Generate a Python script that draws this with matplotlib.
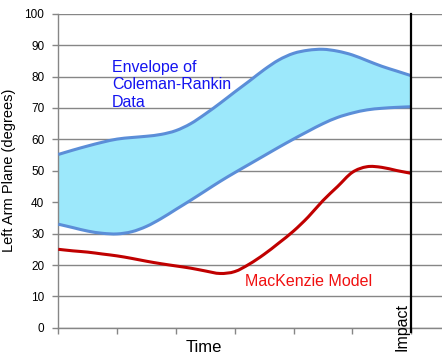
import matplotlib
matplotlib.use("Agg")
import matplotlib.pyplot as plt
from matplotlib.path import Path
from matplotlib.patches import PathPatch

plt.rcParams['font.family'] = ['Liberation Sans', 'DejaVu Sans']

time = [0.0, 0.25, 0.5, 0.75, 1.0, 1.25, 1.5, 1.75, 2.0, 2.25, 2.5, 2.75,
        3.0, 3.25, 3.5, 3.75, 4.0, 4.25, 4.5, 4.75, 5.0, 5.25, 5.5, 5.75, 6.0]
envelope_upper = [55.2, 56.6, 57.9, 59.1, 60.1, 60.6, 61.0, 61.6, 62.8, 65.0, 68.1, 71.5,
                  75.1, 78.6, 82.2, 85.3, 87.4, 88.4, 88.7, 88.1, 86.9, 85.1, 83.3, 81.8, 80.3]
envelope_lower = [33.0, 31.9, 30.8, 30.1, 29.9, 30.6, 32.3, 34.8, 37.7, 40.6, 43.6, 46.6,
                  49.4, 52.1, 54.8, 57.5, 60.1, 62.6, 65.0, 67.0, 68.4, 69.4, 69.9, 70.2, 70.4]
mackenzie = [25.0, 24.5, 24.1, 23.5, 22.9, 22.1, 21.2, 20.4, 19.7, 19.0, 18.1, 17.3,
             17.9, 20.3, 23.4, 27.0, 30.8, 35.3, 40.5, 45.0, 49.5, 51.3, 51.1, 50.1, 49.2]
impact_time = 6
y_ticks = [0, 10, 20, 30, 40, 50, 60, 70, 80, 90, 100]
x_ticks = [0, 1, 2, 3, 4, 5, 6]


def smooth_path(xs, ys):
    """Excel-like smoothed line: Catmull-Rom segments as cubic Bezier path."""
    n = len(xs)
    verts = [(xs[0], ys[0])]
    codes = [Path.MOVETO]
    for i in range(n - 1):
        x0, y0 = (xs[i - 1], ys[i - 1]) if i > 0 else (xs[i], ys[i])
        x1, y1 = xs[i], ys[i]
        x2, y2 = xs[i + 1], ys[i + 1]
        x3, y3 = (xs[i + 2], ys[i + 2]) if i + 2 < n else (xs[i + 1], ys[i + 1])
        c1 = (x1 + (x2 - x0) / 6.0, y1 + (y2 - y0) / 6.0)
        c2 = (x2 - (x3 - x1) / 6.0, y2 - (y3 - y1) / 6.0)
        verts += [c1, c2, (x2, y2)]
        codes += [Path.CURVE4] * 3
    return verts, codes


fig = plt.figure(figsize=(4.42, 3.64), dpi=100)
ax = fig.add_axes([58.3/442, 1-327.8/364, 1-58.3/442, (327.8-13.8)/364])

# filled envelope between smoothed curves
uv, uc = smooth_path(time, envelope_upper)
lv, lc = smooth_path(time[::-1], envelope_lower[::-1])
fill_verts = uv + [lv[0]] + lv[1:] + [uv[0]]
fill_codes = uc + [Path.LINETO] + lc[1:] + [Path.CLOSEPOLY]
ax.add_patch(PathPatch(Path(fill_verts, fill_codes), facecolor='#9CE8FB',
                       edgecolor='none', lw=0, zorder=1))

for series, col in [(envelope_upper, '#5B8ED8'), (envelope_lower, '#5B8ED8'),
                    (mackenzie, '#C00000')]:
    v, c = smooth_path(time, series)
    ax.add_patch(PathPatch(Path(v, c), facecolor='none', edgecolor=col, lw=2.2,
                           capstyle='butt', zorder=3))

ax.axvline(impact_time, ymin=-0.012, ymax=1, color='black', lw=1.6, zorder=4,
           clip_on=False)

ax.set_xlim(0, (442-58.3)/58.8)
ax.set_ylim(0, 100)
ax.set_yticks(y_ticks)
ax.set_xticks(x_ticks)
ax.set_xticklabels([])
ax.yaxis.grid(True, color='#868686', lw=1.0, zorder=0)
ax.set_axisbelow(True)
for s in ['top', 'right']:
    ax.spines[s].set_visible(False)
for s in ['left', 'bottom']:
    ax.spines[s].set_color('#868686')
    ax.spines[s].set_linewidth(1.0)
ax.tick_params(axis='both', direction='out', length=4, width=1, color='#868686',
               labelsize=8.5, pad=6)

ax.set_ylabel('Left Arm Plane (degrees)', fontsize=10.5, labelpad=6)
fig.text(204/442, 1-348/364, 'Time', ha='center', va='center', fontsize=12)

ax.text(0.91, 85.3, 'Envelope of\nColeman-Rankin\nData', color='#1414F0',
        fontsize=11.5, ha='left', va='top', linespacing=1.2)
ax.text(3.175, 14.6, 'MacKenzie Model', color='#F01010', fontsize=11.5,
        ha='left', va='center')
ax.text(5.84, 0.3, 'Impact', rotation=90, ha='center', va='center', fontsize=11.5,
        clip_on=False)

fig.savefig('out.png', dpi=100)
